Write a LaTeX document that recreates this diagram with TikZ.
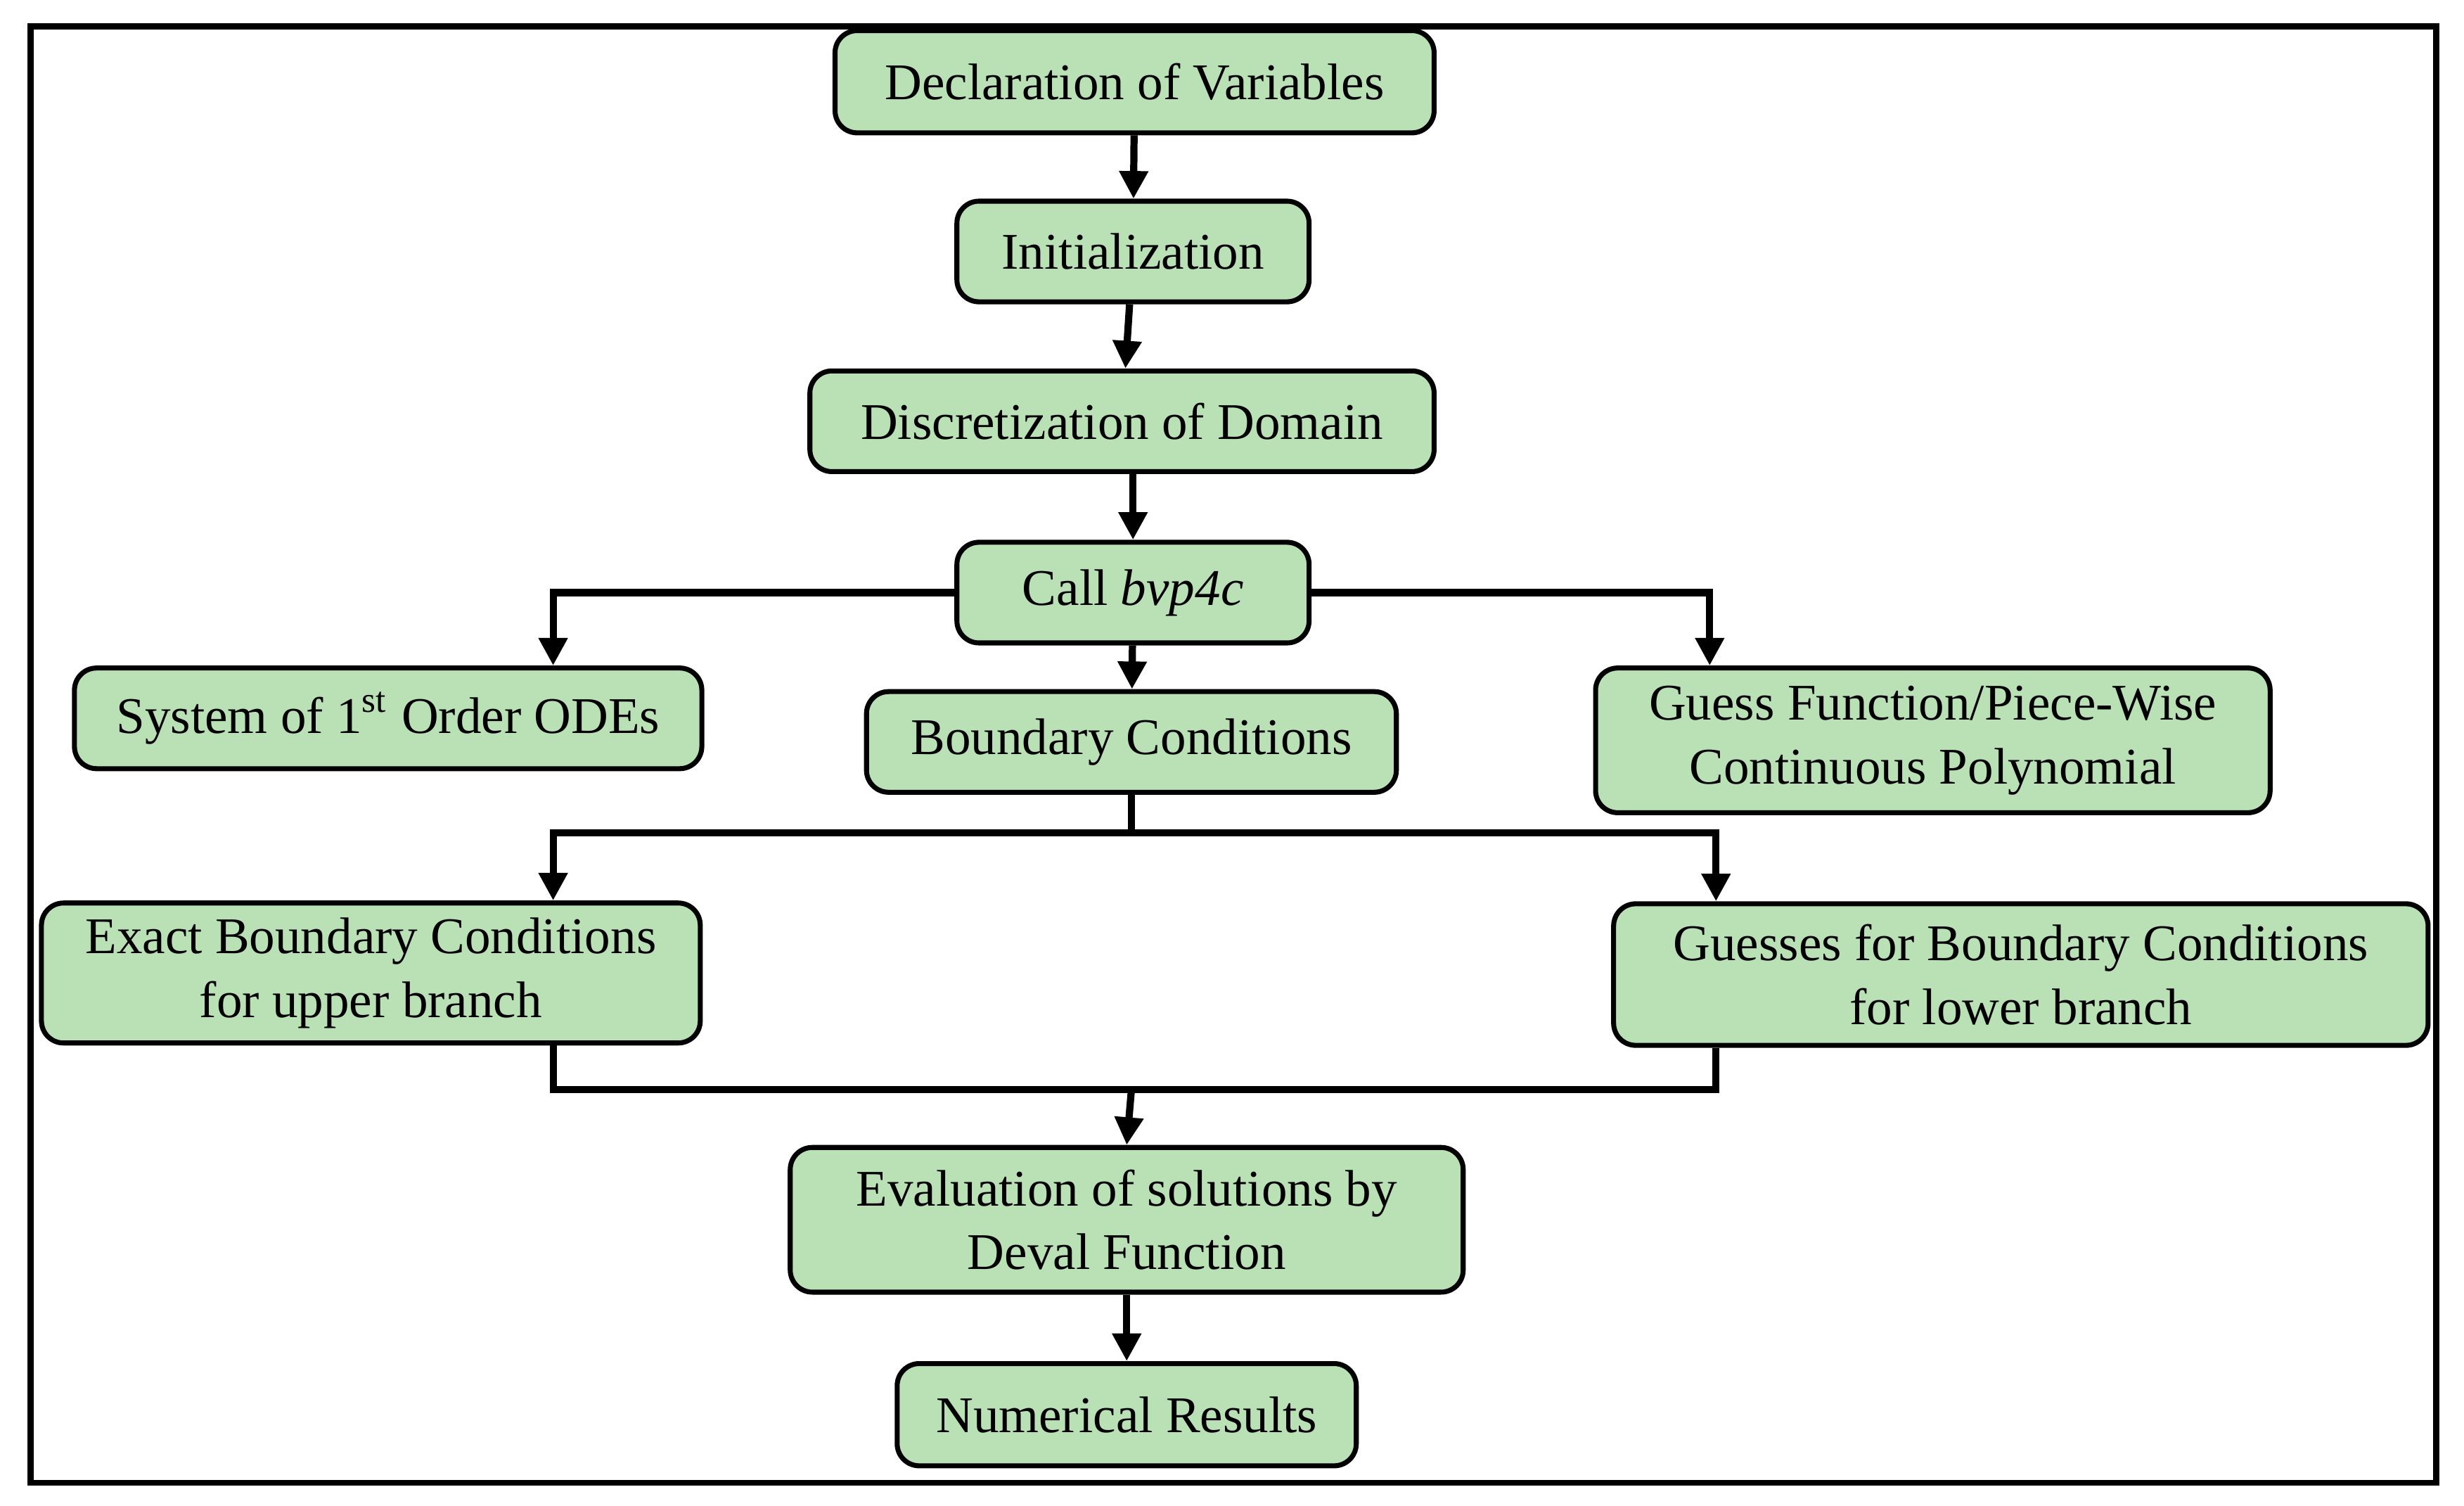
\documentclass[tikz,border=0pt]{standalone}
\usepackage{fontspec}
\setmainfont{Liberation Serif}
\usetikzlibrary{arrows.meta,calc}
\definecolor{boxg}{HTML}{BAE1B5}
\begin{document}
\begin{tikzpicture}[x=0.01cm,y=-0.01cm,
  box/.style={draw=black,line width=0.9pt,fill=boxg,rounded corners=4pt,inner sep=0pt,align=center,font=\fontsize{9.3}{11.5}\selectfont},
  arr/.style={line width=1.3pt,-{Triangle[length=5pt,width=5pt]}},
  ln/.style={line width=1.3pt}]
\useasboundingbox (0,0) rectangle (1568,958);
\node[draw,line width=1.1pt,minimum width=15.3cm,minimum height=9.26cm,inner sep=0] (frame) at (785,480) {};
\node[box,minimum width=3.81cm,minimum height=0.65cm] (decl) at (722,52) {Declaration of Variables};
\node[box,minimum width=2.24cm,minimum height=0.64cm] (init) at (721,160) {Initialization};
\node[box,minimum width=3.97cm,minimum height=0.64cm] (disc) at (714,268) {Discretization of Domain};
\node[box,minimum width=2.24cm,minimum height=0.64cm] (call) at (721,377) {Call \textit{bvp4c}};
\node[box,minimum width=3.99cm,minimum height=0.64cm] (sys) at (247,457) {System of 1\textsuperscript{st} Order ODEs};
\node[box,minimum width=3.37cm,minimum height=0.64cm] (bc) at (720,472) {Boundary Conditions};
\node[box,minimum width=4.29cm,minimum height=0.92cm] (guess) at (1230,471) {Guess Function/Piece-Wise\\Continuous Polynomial};
\node[box,minimum width=4.19cm,minimum height=0.89cm] (exact) at (236,619) {Exact Boundary Conditions\\for upper branch};
\node[box,minimum width=5.18cm,minimum height=0.90cm] (gbc) at (1286,620) {Guesses for Boundary Conditions\\for lower branch};
\node[box,minimum width=4.28cm,minimum height=0.92cm] (eval) at (717,776) {Evaluation of solutions by\\Deval Function};
\node[box,minimum width=2.92cm,minimum height=0.65cm] (num) at (717,900) {Numerical Results};
\coordinate (s1) at (720,530);
\coordinate (s2) at (720,693);
\coordinate (xl) at (352,0);
\coordinate (xr) at (1088,0);
\coordinate (xr2) at (1092,0);
\draw[arr] (decl) -- (init);
\draw[arr] (init) -- (disc);
\draw[arr] (disc.south -| call) -- (call);
\draw[arr] (call.west) -| (sys.north -| xl);
\draw[arr] (call.east) -| (guess.north -| xr);
\draw[arr] (call) -- (bc);
\draw[ln] (bc) -- (s1);
\draw[arr] (s1) -| (exact.north -| xl);
\draw[arr] (s1) -| (gbc.north -| xr2);
\draw[ln] (exact.south -| xl) |- (s2) -| (gbc.south -| xr2);
\draw[arr] (s2) -- (eval.north);
\draw[arr] (eval.south -| num) -- (num);
\end{tikzpicture}
\end{document}
